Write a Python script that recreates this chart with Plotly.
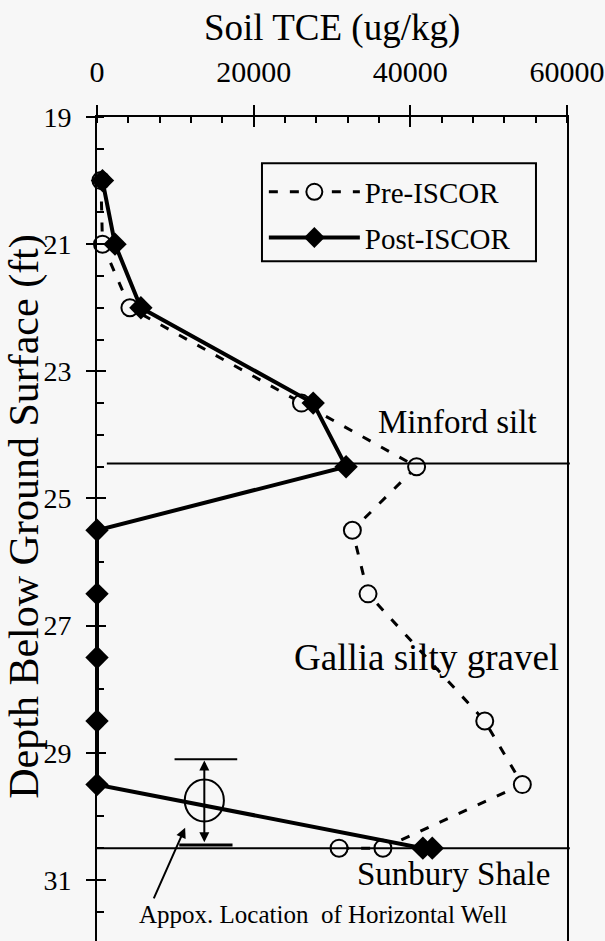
import plotly.graph_objects as go

# ---------------- data ----------------
depth_pre = [20, 21, 22, 23.5, 24.5, 25.5, 26.5, 28.5, 29.5, 30.5, 30.5]
tce_pre = [500, 700, 4200, 26100, 40800, 32600, 34600, 49500, 54300, 36500, 30900]

depth_post = [20, 21, 22, 23.5, 24.5, 25.5, 26.5, 27.5, 28.5, 29.5, 30.5, 30.5]
tce_post = [700, 2300, 5600, 27600, 31800, 0, 0, 0, 0, 0, 41600, 42800]

x_tickvals = [0, 20000, 40000, 60000]
y_tickvals = [19, 21, 23, 25, 27, 29, 31]

# layer boundaries and labels
layer_depths = [24.45, 30.5]
layer_labels = ["Minford silt", "Gallia silty gravel", "Sunbury Shale"]
layer_label_x = [46000, 42000, 45500]
layer_label_y = [23.8, 27.5, 30.9]
layer_label_size = [33, 37, 33]

# horizontal well schematic
well_x = 13700
well_depth = 29.75
well_top = 29.1
well_bottom = 30.45

BG = "#f7f7f7"
FONT = "Liberation Serif"

fig = go.Figure()

fig.add_trace(go.Scatter(
    x=tce_pre, y=depth_pre, name="Pre-ISCOR", mode="lines+markers",
    line=dict(color="black", width=3, dash="9px,12px"),
    marker=dict(symbol="circle", size=17, color=BG, line=dict(color="black", width=2)),
    cliponaxis=False, legendgroup="pre",
))
fig.add_trace(go.Scatter(
    x=tce_post, y=depth_post, name="Post-ISCOR", mode="lines+markers",
    line=dict(color="black", width=4),
    marker=dict(symbol="diamond", size=18, color="black"),
    cliponaxis=False, legendgroup="post",
))
# empty trace to register overlay axes (inner halves of major ticks)
fig.add_trace(go.Scatter(x=[], y=[], xaxis="x2", yaxis="y2", showlegend=False))

# layer boundary lines
for d in layer_depths:
    fig.add_shape(type="line", xref="paper", yref="y", x0=0.0 if d > 30 else 0.021, x1=1.006,
                  y0=d, y1=d, line=dict(color="black", width=2))

for t, lx, ly, fs in zip(layer_labels, layer_label_x, layer_label_y, layer_label_size):
    fig.add_annotation(x=lx, y=ly, text=t, showarrow=False,
                       font=dict(family=FONT, size=fs, color="black"))

# legend frame
fig.add_shape(type="rect", xref="paper", yref="paper", x0=0.351, x1=0.934,
              y0=0.825, y1=0.944, line=dict(color="black", width=2))

# well schematic
dx = 2500
dy = 0.33
fig.add_shape(type="circle", xref="x", yref="y", x0=well_x - dx, x1=well_x + dx,
              y0=well_depth - dy, y1=well_depth + dy, line=dict(color="black", width=2))
fig.add_shape(type="line", xref="x", yref="y", x0=well_x - 3800, x1=well_x + 4200,
              y0=well_top, y1=well_top, line=dict(color="black", width=2))
fig.add_shape(type="line", xref="x", yref="y", x0=well_x - 3200, x1=well_x + 3600,
              y0=well_bottom, y1=well_bottom, line=dict(color="black", width=3))
fig.add_annotation(x=well_x, y=well_top + 0.02, ax=well_x, ay=well_bottom - 0.02,
                   axref="x", ayref="y", xref="x", yref="y", text="",
                   showarrow=True, arrowhead=2, arrowside="end+start",
                   arrowwidth=2, arrowsize=1, arrowcolor="black")
fig.add_annotation(x=11250, y=30.18, ax=-32, ay=72, text="", showarrow=True,
                   arrowhead=2, arrowwidth=2, arrowsize=1, arrowcolor="black")
fig.add_annotation(x=28850, y=31.55, text="Appox. Location&nbsp;&nbsp;of Horizontal Well",
                   showarrow=False, font=dict(family=FONT, size=25, color="black"))

# titles
fig.add_annotation(xref="paper", yref="paper", x=0.5, y=1, yshift=89, text="Soil TCE (ug/kg)",
                   showarrow=False, yanchor="middle", xanchor="center",
                   font=dict(family=FONT, size=37, color="black"))
fig.add_annotation(xref="paper", yref="paper", x=-0.153, y=0.515, text="Depth Below Ground Surface (ft)",
                   showarrow=False, textangle=-90, xanchor="center", yanchor="middle",
                   font=dict(family=FONT, size=42, color="black"))

fig.update_layout(
    width=605, height=941,
    margin=dict(l=97, r=38, t=117, b=0),
    paper_bgcolor=BG, plot_bgcolor=BG,
    font=dict(family=FONT, color="black"),
    showlegend=True,
    legend=dict(x=0.355, y=0.940, xanchor="left", yanchor="top",
                bgcolor="rgba(0,0,0,0)", borderwidth=0,
                itemwidth=91, tracegroupgap=5, traceorder="grouped",
                font=dict(family=FONT, size=29, color="black")),
    xaxis=dict(side="top", range=[0, 60000], tickvals=x_tickvals,
               ticktext=[str(v) for v in x_tickvals],
               ticks="outside", ticklen=10, tickwidth=2, tickcolor="black",
               showline=True, linewidth=2, linecolor="black", mirror=False,
               showgrid=False, zeroline=False, ticklabelstandoff=11,
               tickfont=dict(family=FONT, size=30, color="black"),
               minor=dict(dtick=4000, tick0=0, ticks="inside", ticklen=6, tickwidth=2,
                          tickcolor="black", showgrid=False)),
    yaxis=dict(range=[31.96, 19], tickvals=y_tickvals,
               ticks="outside", ticklen=9, tickwidth=2, tickcolor="black",
               showline=True, linewidth=2, linecolor="black", mirror=True,
               showgrid=False, zeroline=False, ticklabelstandoff=9,
               tickfont=dict(family=FONT, size=28, color="black"),
               minor=dict(dtick=0.5, tick0=19, ticks="inside", ticklen=7, tickwidth=2,
                          tickcolor="black", showgrid=False)),
    xaxis2=dict(overlaying="x", side="top", range=[0, 60000], tickvals=x_tickvals,
                ticks="inside", ticklen=10, tickwidth=2, tickcolor="black",
                showticklabels=False, showline=False, showgrid=False, zeroline=False),
    yaxis2=dict(overlaying="y", side="left", range=[31.96, 19], tickvals=y_tickvals,
                ticks="inside", ticklen=9, tickwidth=2, tickcolor="black",
                showticklabels=False, showline=False, showgrid=False, zeroline=False),
)

fig.write_html(
    "out.html",
    config={"displayModeBar": False},
    post_script="document.body.style.margin='0';document.body.style.background='%s';" % BG,
)
